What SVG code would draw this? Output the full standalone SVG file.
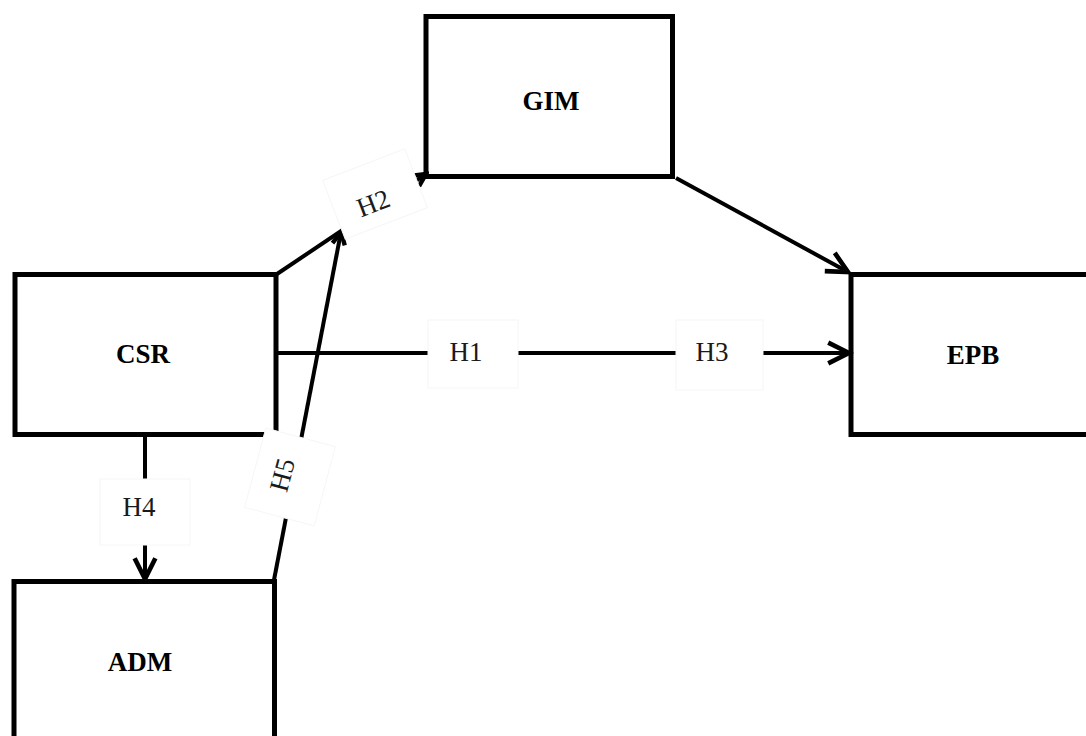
<svg xmlns="http://www.w3.org/2000/svg" width="1086" height="736" viewBox="0 0 1086 736">
  <style>
    .box { fill: #fff; stroke: #000; stroke-width: 5; }
    .name { font-family: "Liberation Serif", "DejaVu Serif", serif; font-size: 27px; font-weight: bold; text-anchor: middle; fill: #000; }
    .conn { fill: none; stroke: #000; stroke-width: 4; }
    .lblbox { fill: #fff; stroke: #f6f6f6; stroke-width: 1; }
    .lbl { font-family: "Liberation Serif", "DejaVu Serif", serif; font-size: 27px; text-anchor: middle; fill: #1a1a1a; }
  </style>
  <defs>
    <marker id="arr" markerUnits="userSpaceOnUse" markerWidth="30" markerHeight="30" viewBox="-22 -12 26 24" refX="0" refY="0" orient="auto">
      <path d="M -18 -9 L 0 0 L -18 9" fill="none" stroke="#000" stroke-width="4" stroke-linejoin="miter"/>
    </marker>
    <marker id="arrs" markerUnits="userSpaceOnUse" markerWidth="20" markerHeight="20" viewBox="-12 -8 14 16" refX="0" refY="0" orient="auto">
      <path d="M -10 -5 L 0 0 L -10 5" fill="none" stroke="#000" stroke-width="3.5"/>
    </marker>
    <filter id="sh" x="-5%" y="-200%" width="110%" height="500%">
      <feGaussianBlur stdDeviation="2"/>
    </filter>
  </defs>
  <rect width="1086" height="736" fill="#fff"/>

  <g id="node-gim">
    <rect class="box" x="426" y="16.5" width="246.5" height="160"/>
    <text class="name" x="551" y="110">GIM</text>
  </g>
  <g id="node-csr">
    <rect class="box" x="15" y="274.5" width="261" height="160"/>
    <text class="name" x="143" y="363">CSR</text>
  </g>
  <g id="node-epb">
    <rect class="box" x="851" y="274.5" width="260" height="160"/>
    <text class="name" x="973" y="364">EPB</text>
  </g>
  <g id="node-adm">
    <rect class="box" x="14" y="581.5" width="260.5" height="200"/>
    <text class="name" x="140" y="671">ADM</text>
  </g>

  <g id="connectors">
    <line x1="276" y1="357" x2="849" y2="357" stroke="#aaaaaa" stroke-width="4" filter="url(#sh)"/>
    <line class="conn" x1="276" y1="353" x2="849" y2="353" marker-end="url(#arr)"/>
    <line class="conn" x1="676" y1="178" x2="848" y2="272" marker-end="url(#arr)"/>
    <line class="conn" x1="277" y1="274" x2="426" y2="174" marker-end="url(#arrs)"/>
    <line class="conn" x1="274" y1="580" x2="341" y2="232" marker-end="url(#arrs)"/>
    <line class="conn" x1="145" y1="434" x2="145" y2="579" marker-end="url(#arr)"/>
  </g>

  <g id="labels">
    <g id="label-h1">
      <rect class="lblbox" x="428" y="320" width="90" height="68"/>
      <text class="lbl" x="466" y="361">H1</text>
    </g>
    <g id="label-h3">
      <rect class="lblbox" x="676" y="320" width="87" height="70"/>
      <text class="lbl" x="712" y="361">H3</text>
    </g>
    <g id="label-h4">
      <rect class="lblbox" x="100" y="479" width="90" height="66"/>
      <text class="lbl" x="139" y="516">H4</text>
    </g>
    <g id="label-h2" transform="translate(375 194) rotate(-21)">
      <rect class="lblbox" x="-44" y="-31.5" width="88" height="63"/>
      <text class="lbl" x="-5" y="17">H2</text>
    </g>
    <g id="label-h5" transform="translate(290 477) rotate(-75)">
      <rect class="lblbox" x="-41" y="-36" width="82" height="72"/>
      <text class="lbl" x="0" y="1">H5</text>
    </g>
  </g>
</svg>
